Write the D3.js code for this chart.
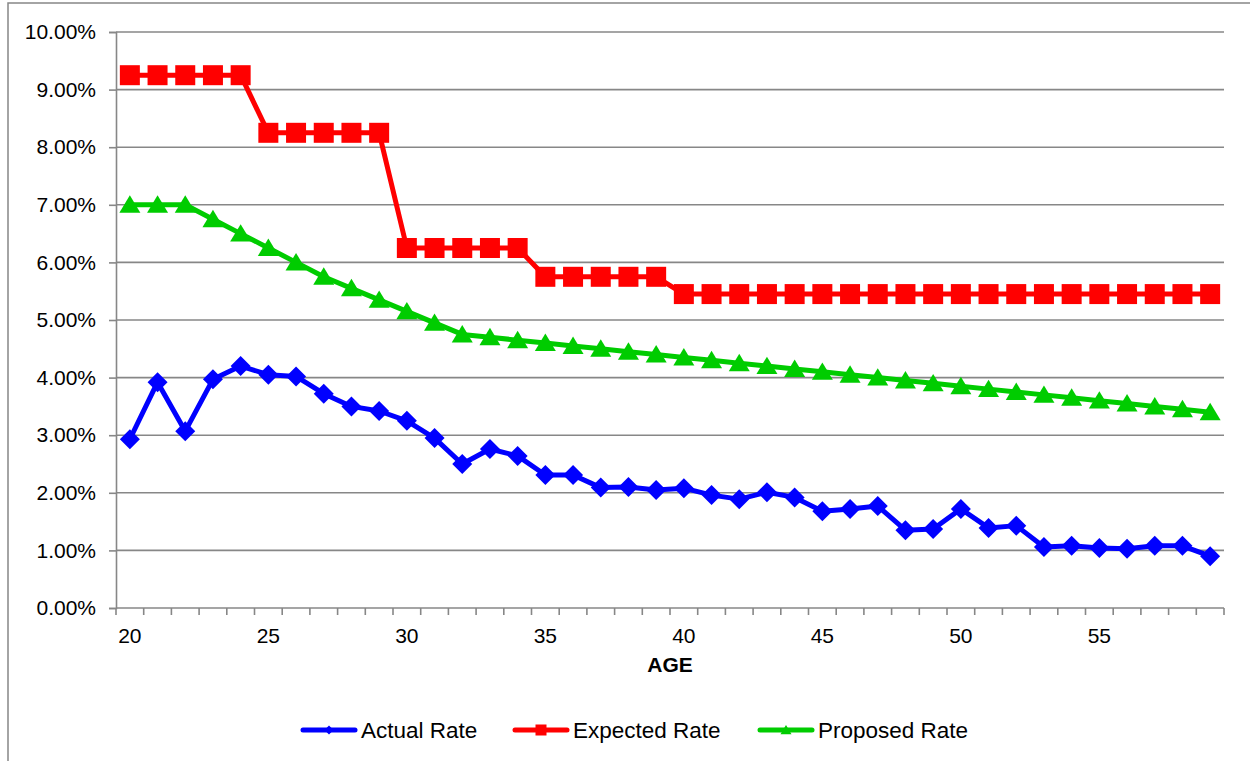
<!DOCTYPE html>
<html>
<head>
<meta charset="utf-8">
<script src="https://cdn.jsdelivr.net/npm/d3@7"></script>
<style>
  html, body { margin: 0; padding: 0; background: #fff; }
  svg { display: block; }
  text { font-family: "Liberation Sans", Arial, sans-serif; fill: #000; }
</style>
</head>
<body>
<script>
// Age categories and rates (percent)
const ages = [20,21,22,23,24,25,26,27,28,29,30,31,32,33,34,35,36,37,38,39,
              40,41,42,43,44,45,46,47,48,49,50,51,52,53,54,55,56,57,58,59];
const actualRate = [2.93,3.92,3.07,3.97,4.20,4.05,4.02,3.72,3.50,3.42,
                    3.25,2.95,2.50,2.76,2.64,2.31,2.31,2.09,2.10,2.05,
                    2.08,1.96,1.89,2.01,1.92,1.68,1.72,1.77,1.35,1.37,
                    1.72,1.39,1.43,1.06,1.08,1.04,1.03,1.08,1.08,0.90];
const expectedRate = [9.25,9.25,9.25,9.25,9.25,8.25,8.25,8.25,8.25,8.25,
                      6.25,6.25,6.25,6.25,6.25,5.75,5.75,5.75,5.75,5.75,
                      5.45,5.45,5.45,5.45,5.45,5.45,5.45,5.45,5.45,5.45,
                      5.45,5.45,5.45,5.45,5.45,5.45,5.45,5.45,5.45,5.45];
const proposedRate = [7.00,7.00,7.00,6.75,6.50,6.25,6.00,5.75,5.55,5.35,
                      5.15,4.95,4.75,4.70,4.65,4.60,4.55,4.50,4.45,4.40,
                      4.35,4.30,4.25,4.20,4.15,4.10,4.05,4.00,3.95,3.90,
                      3.85,3.80,3.75,3.70,3.65,3.60,3.55,3.50,3.45,3.40];
const yTicks = [0,1,2,3,4,5,6,7,8,9,10];
const xLabelAges = [20,25,30,35,40,45,50,55];
const seriesNames = ["Actual Rate", "Expected Rate", "Proposed Rate"];

const W = 1250, H = 761;
const plot = { left: 116, right: 1224, top: 32, bottom: 608 };
const gridColor = "#878787";

const svg = d3.select("body").append("svg").attr("width", W).attr("height", H);

// chart frame
svg.append("rect").attr("x", 8).attr("y", 3).attr("width", W + 20).attr("height", H + 20)
  .attr("fill", "#fff").attr("stroke", gridColor).attr("stroke-width", 1.5);

const x = d3.scaleBand().domain(ages).range([plot.left, plot.right]).padding(0);
const y = d3.scaleLinear().domain([0, 10]).range([plot.bottom, plot.top]);
const cx = a => x(a) + x.bandwidth() / 2;

// horizontal gridlines
svg.append("g").selectAll("line").data(yTicks.filter(t => t > 0)).join("line")
  .attr("x1", plot.left).attr("x2", plot.right)
  .attr("y1", d => y(d)).attr("y2", d => y(d))
  .attr("stroke", gridColor).attr("stroke-width", 1.6);

// y axis
const yAxis = d3.axisLeft(y).tickValues(yTicks).tickSize(7).tickPadding(13)
  .tickFormat(d => d3.format(".2f")(d) + "%");
const gy = svg.append("g").attr("transform", `translate(${plot.left},0)`).call(yAxis);
gy.select(".domain").attr("stroke", gridColor).attr("stroke-width", 1.6);
gy.selectAll(".tick line").attr("stroke", gridColor).attr("stroke-width", 1.6);
gy.selectAll(".tick text").attr("font-size", 21).attr("font-family", "Liberation Sans, Arial, sans-serif").attr("fill", "#000");

// x axis: tick marks at category boundaries, labels every five years
const gx = svg.append("g").attr("transform", `translate(0,${plot.bottom})`);
gx.append("line").attr("x1", plot.left).attr("x2", plot.right)
  .attr("stroke", gridColor).attr("stroke-width", 1.6);
const bounds = ages.map(a => x(a)).concat([x(ages[ages.length - 1]) + x.bandwidth()]);
gx.selectAll("line.tk").data(bounds).join("line").attr("class", "tk")
  .attr("x1", d => d).attr("x2", d => d).attr("y1", 0).attr("y2", 7)
  .attr("stroke", gridColor).attr("stroke-width", 1.6);
gx.selectAll("text").data(xLabelAges).join("text")
  .attr("x", d => cx(d)).attr("y", 35).attr("text-anchor", "middle")
  .attr("font-size", 21).text(d => d);

svg.append("text").attr("x", 670).attr("y", 672).attr("text-anchor", "middle")
  .attr("font-size", 21).attr("font-weight", "bold").text("AGE");

// marker shapes
function drawMarker(g, type, s, color) {
  let m;
  if (type === "diamond") {
    m = g.append("path").attr("d", `M0,${-s / 2}L${s / 2},0L0,${s / 2}L${-s / 2},0Z`);
  } else if (type === "square") {
    m = g.append("rect").attr("x", -s / 2).attr("y", -s / 2).attr("width", s).attr("height", s);
  } else {
    m = g.append("path").attr("d", `M0,${-s * 0.45}L${s / 2},${s * 0.38}L${-s / 2},${s * 0.38}Z`);
  }
  m.attr("fill", color);
}

const series = [
  { name: seriesNames[0], values: actualRate, color: "#0000ff", marker: "diamond", size: 20 },
  { name: seriesNames[1], values: expectedRate, color: "#ff0000", marker: "square", size: 20 },
  { name: seriesNames[2], values: proposedRate, color: "#00cc00", marker: "triangle", size: 21 }
];

const line = d3.line().x((d, i) => cx(ages[i])).y(d => y(d));

series.forEach(s => {
  const g = svg.append("g");
  g.append("path").datum(s.values).attr("d", line)
    .attr("fill", "none").attr("stroke", s.color).attr("stroke-width", 5)
    .attr("stroke-linejoin", "round");
  s.values.forEach((v, i) => {
    const mg = g.append("g").attr("transform", `translate(${cx(ages[i])},${y(v)})`);
    drawMarker(mg, s.marker, s.size, s.color);
  });
});

// legend
const legendItems = [
  { s: series[0], x0: 303, msize: 9 },
  { s: series[1], x0: 515, msize: 11 },
  { s: series[2], x0: 760, msize: 11 }
];
const ly = 730;
legendItems.forEach(it => {
  const g = svg.append("g");
  g.append("line").attr("x1", it.x0).attr("x2", it.x0 + 52).attr("y1", ly).attr("y2", ly)
    .attr("stroke", it.s.color).attr("stroke-width", 5).attr("stroke-linecap", "round");
  const mg = g.append("g").attr("transform", `translate(${it.x0 + 26},${ly})`);
  drawMarker(mg, it.s.marker, it.msize, it.s.color);
  g.append("text").attr("x", it.x0 + 58).attr("y", ly + 8).attr("font-size", 22.5).text(it.s.name);
});
</script>
</body>
</html>
